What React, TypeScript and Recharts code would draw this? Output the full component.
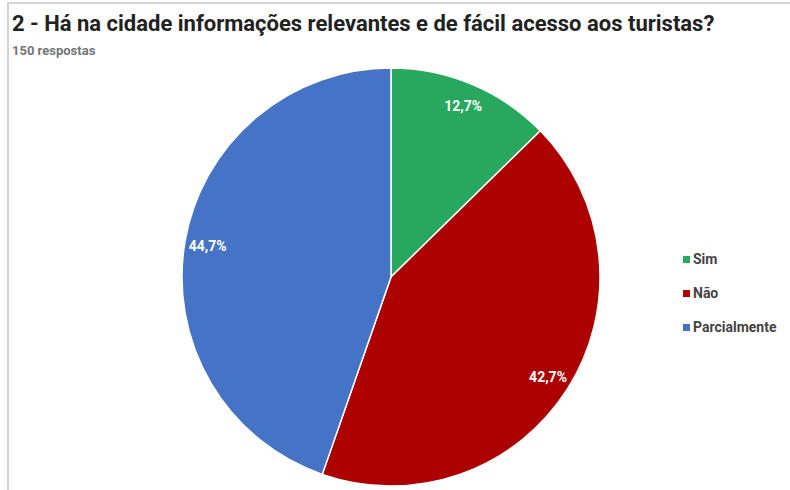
import { Cell, Legend, Pie, PieChart } from 'recharts'

// respostas da pergunta 2
const categorias = ['Sim', 'Não', 'Parcialmente']
const respostas = [19, 64, 67]
const cores = ['#28a75e', '#ad0000', '#4573c5']

const titulo = '2 - Há na cidade informações relevantes e de fácil acesso aos turistas?'
const subtitulo = '150 respostas'

const data = categorias.map((name, i) => ({ name, value: respostas[i], fill: cores[i] }))
const total = respostas.reduce((a, b) => a + b, 0)

const RAD = Math.PI / 180

const renderLabel = (props: any) => {
  const { cx, cy, midAngle, outerRadius, value } = props
  const r = outerRadius * 0.89
  const x = cx + r * Math.cos(-midAngle * RAD)
  const y = cy + r * Math.sin(-midAngle * RAD)
  const pct = ((value / total) * 100).toFixed(1).replace('.', ',') + '%'
  return (
    <text x={x} y={y} fill='#fff' textAnchor='middle' dominantBaseline='central'
      style={{ fontFamily: 'Roboto', fontWeight: 700, fontSize: 14 }}>
      {pct}
    </text>
  )
}

const renderLegend = (props: any) => {
  // manter a ordem original das categorias
  const payload = [...props.payload].sort((a: any, b: any) => categorias.indexOf(a.value) - categorias.indexOf(b.value))
  return (
    <ul style={{ listStyle: 'none', margin: 0, padding: 0 }}>
      {payload.map((item: any) => (
        <li key={item.value} style={{ display: 'flex', alignItems: 'center', height: 34 }}>
          <span style={{ width: 7, height: 7, background: item.color, marginRight: 3, display: 'inline-block' }} />
          <span style={{ fontFamily: 'Roboto', fontWeight: 700, fontSize: 14, color: '#444' }}>{item.value}</span>
        </li>
      ))}
    </ul>
  )
}

export default function App () {
  return (
    <div style={{ position: 'absolute', left: 0, top: 0, width: 790, height: 490, background: '#fff', overflow: 'hidden' }}>
      <div style={{ position: 'absolute', left: 7, top: 2, right: 0, bottom: 0, borderTop: '2px solid #d4d4d4', borderLeft: '2px solid #d4d4d4' }} />
      <div style={{ position: 'absolute', left: 12, top: 11, fontFamily: 'Roboto', fontWeight: 700, fontSize: 22, color: '#222', whiteSpace: 'nowrap', lineHeight: '26px' }}>
        {titulo}
      </div>
      <div style={{ position: 'absolute', left: 12, top: 43, fontFamily: 'Roboto', fontWeight: 700, fontSize: 13, color: '#757575', lineHeight: '16px' }}>
        {subtitulo}
      </div>
      <div style={{ position: 'absolute', left: 0, top: 0 }}>
        <PieChart width={790} height={490} margin={{ top: 0, right: 0, bottom: 0, left: 0 }}>
          <Pie
            data={data}
            dataKey='value'
            nameKey='name'
            cx={391}
            cy={277}
            outerRadius={209}
            startAngle={90}
            endAngle={-270}
            stroke='#fff'
            strokeWidth={1.5}
            label={renderLabel}
            labelLine={false}
            isAnimationActive={false}
          >
            {data.map((d) => <Cell key={d.name} fill={d.fill} />)}
          </Pie>
          <Legend
            layout='vertical'
            content={renderLegend}
            wrapperStyle={{ position: 'absolute', left: 683, top: 242, width: 110 }}
          />
        </PieChart>
      </div>
    </div>
  )
}
